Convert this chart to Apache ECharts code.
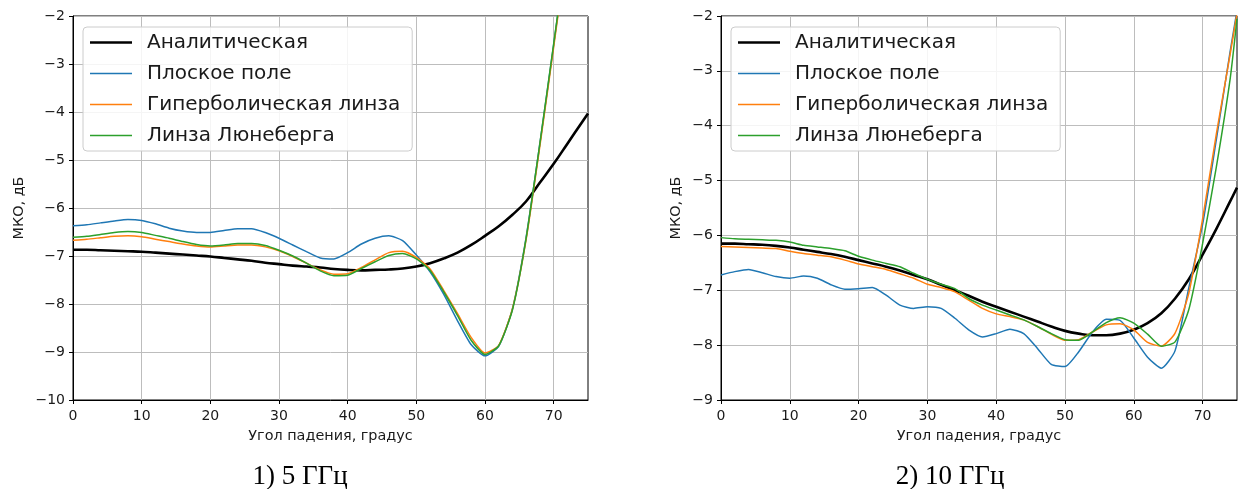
<!DOCTYPE html>
<html>
<head>
<meta charset="utf-8">
<script src="https://cdn.jsdelivr.net/npm/echarts@6/dist/echarts.min.js"></script>
<style>
  html, body { margin: 0; padding: 0; background: #fff; }
  #chart { width: 1241px; height: 489px; }
</style>
</head>
<body>
<div id="chart"></div>
<script>
  // углы падения, градус
  var angles = [0, 2, 4, 6, 8, 10, 12, 14, 16, 18, 20, 22, 24, 26, 28, 30, 32, 34, 36, 38,
    40, 42, 44, 46, 48, 50, 52, 54, 56, 58, 60, 62, 64, 66, 68, 70, 72, 74, 75];
  var xTicks = [0, 10, 20, 30, 40, 50, 60, 70];
  var names = ['Аналитическая', 'Плоское поле', 'Гиперболическая линза', 'Линза Люнеберга'];
  var captions = ['1) 5 ГГц', '2) 10 ГГц'];

  // 5 ГГц
  var analytic5 = [-6.87, -6.87, -6.88, -6.89, -6.90, -6.91, -6.93, -6.95, -6.97, -6.99, -7.01, -7.04, -7.07, -7.10,
    -7.14, -7.17, -7.20, -7.22, -7.24, -7.27, -7.29, -7.30, -7.29, -7.28, -7.26, -7.22, -7.15, -7.05, -6.93,
    -6.77, -6.58, -6.38, -6.14, -5.86, -5.47, -5.08, -4.66, -4.24, -4.03];
  var flat5 = [-6.37, -6.35, -6.31, -6.27, -6.24, -6.26, -6.33, -6.42, -6.48, -6.51, -6.51, -6.47, -6.43, -6.43,
    -6.51, -6.63, -6.77, -6.91, -7.04, -7.06, -6.93, -6.75, -6.63, -6.58, -6.68, -6.98, -7.33, -7.80, -8.35,
    -8.85, -9.08, -8.88, -8.10, -6.60, -4.65, -2.60, -0.50, null, null];
  var hyper5 = [-6.67, -6.65, -6.62, -6.59, -6.58, -6.60, -6.65, -6.70, -6.75, -6.79, -6.81, -6.79, -6.77, -6.77,
    -6.81, -6.89, -7.01, -7.15, -7.29, -7.38, -7.37, -7.24, -7.08, -6.93, -6.90, -7.03, -7.27, -7.72, -8.20,
    -8.70, -9.02, -8.86, -8.10, -6.65, -4.70, -2.65, -0.55, null, null];
  var luneburg5 = [-6.61, -6.59, -6.55, -6.51, -6.49, -6.51, -6.57, -6.63, -6.70, -6.76, -6.79, -6.77, -6.74, -6.74,
    -6.78, -6.88, -7.00, -7.15, -7.31, -7.41, -7.40, -7.26, -7.12, -6.99, -6.95, -7.06, -7.30, -7.75, -8.24,
    -8.76, -9.05, -8.87, -8.12, -6.62, -4.65, -2.58, -0.50, null, null];

  // 10 ГГц
  var analytic10 = [-6.15, -6.15, -6.16, -6.17, -6.19, -6.22, -6.26, -6.30, -6.34, -6.39, -6.45, -6.51, -6.57, -6.64,
    -6.72, -6.80, -6.90, -7.00, -7.10, -7.21, -7.30, -7.39, -7.48, -7.57, -7.66, -7.74, -7.79, -7.82, -7.82,
    -7.79, -7.72, -7.60, -7.42, -7.15, -6.80, -6.35, -5.88, -5.38, -5.13];
  var flat10 = [-6.72, -6.66, -6.62, -6.68, -6.75, -6.78, -6.74, -6.78, -6.90, -6.98, -6.97, -6.95, -7.09, -7.27,
    -7.33, -7.30, -7.33, -7.51, -7.72, -7.85, -7.79, -7.71, -7.79, -8.06, -8.35, -8.39, -8.12, -7.76, -7.53,
    -7.55, -7.87, -8.22, -8.42, -8.10, -6.95, -5.80, -4.25, -2.65, -1.90];
  var hyper10 = [-6.20, -6.21, -6.22, -6.23, -6.24, -6.29, -6.33, -6.36, -6.39, -6.45, -6.52, -6.57, -6.62, -6.70,
    -6.78, -6.89, -6.95, -7.03, -7.18, -7.33, -7.43, -7.48, -7.54, -7.66, -7.80, -7.91, -7.90, -7.76, -7.63,
    -7.61, -7.72, -7.95, -8.02, -7.78, -7.05, -5.70, -4.15, -2.70, -1.95];
  var luneburg10 = [-6.04, -6.06, -6.07, -6.08, -6.09, -6.12, -6.18, -6.21, -6.24, -6.28, -6.38, -6.45, -6.51, -6.57,
    -6.69, -6.80, -6.89, -6.97, -7.15, -7.27, -7.36, -7.45, -7.54, -7.66, -7.79, -7.90, -7.91, -7.76, -7.59,
    -7.50, -7.60, -7.80, -8.02, -7.94, -7.35, -6.15, -4.75, -3.15, -2.05];

  var colors = ['#000000', '#1f77b4', '#ff7f0e', '#2ca02c'];
  var widths = [2.6, 1.5, 1.5, 1.5];
  var textColor = '#1a1a1a';

  function pairs(ys) {
    return angles.map(function (a, i) { return [a, ys[i]]; });
  }

  function minusFmt(v) {
    return v < 0 ? '\u2212' + Math.abs(v) : String(v);
  }

  function makeX(gridIndex) {
    return {
      type: 'value', gridIndex: gridIndex, min: 0, max: 75, interval: 10,
      name: 'Угол падения, градус', nameLocation: 'middle', nameGap: 29,
      nameTextStyle: { fontFamily: 'DejaVu Sans', fontSize: 14.4, color: textColor },
      axisLine: { show: true, onZero: false, lineStyle: { color: '#000', width: 1 } },
      axisTick: { show: true, inside: false, length: 4, lineStyle: { color: '#000' }, customValues: xTicks },
      axisLabel: { fontFamily: 'DejaVu Sans', fontSize: 14, color: textColor, margin: 9, customValues: xTicks },
      splitLine: { show: true, lineStyle: { color: '#bdbdbd', width: 1 } }
    };
  }

  function makeY(gridIndex, min, gap) {
    return {
      type: 'value', gridIndex: gridIndex, min: min, max: -2, interval: 1,
      name: 'МКО, дБ', nameLocation: 'middle', nameGap: gap,
      nameTextStyle: { fontFamily: 'DejaVu Sans', fontSize: 14.4, color: textColor },
      axisLine: { show: true, onZero: false, lineStyle: { color: '#000', width: 1 } },
      axisTick: { show: true, inside: false, length: 4, lineStyle: { color: '#000' } },
      axisLabel: { fontFamily: 'DejaVu Sans', fontSize: 14, color: textColor, margin: 8, formatter: minusFmt },
      splitLine: { show: true, lineStyle: { color: '#bdbdbd', width: 1 } }
    };
  }

  function makeSeries(gridIndex, data) {
    return data.map(function (ys, i) {
      return {
        name: names[i], type: 'line', xAxisIndex: gridIndex, yAxisIndex: gridIndex,
        data: pairs(ys), symbol: 'none', smooth: i === 0 ? 0.4 : 0.2, connectNulls: false,
        clip: true, animation: false,
        lineStyle: { color: colors[i], width: widths[i] },
        itemStyle: { color: colors[i] }
      };
    });
  }

  function makeLegend(left) {
    return {
      orient: 'vertical', left: left, top: 27,
      data: names.map(function (n, i) {
        return { name: n, icon: 'path://M0,0H42V' + widths[i] + 'H0Z' };
      }),
      itemWidth: 42, itemHeight: 14, itemGap: 10,
      padding: [5, 12, 5, 7],
      backgroundColor: 'rgba(255,255,255,0.85)',
      borderColor: '#cccccc', borderWidth: 1, borderRadius: 4,
      textStyle: { fontFamily: 'DejaVu Sans', fontSize: 20, lineHeight: 21, color: textColor, padding: [0, 0, 0, 10] }
    };
  }

  function caption(text, x) {
    return {
      type: 'text', x: x, y: 477,
      style: { text: text, font: '27px "Liberation Serif"', fill: '#000', align: 'center', verticalAlign: 'middle' }
    };
  }

  var chart = echarts.init(document.getElementById('chart'));
  chart.setOption({
    animation: false,
    color: colors,
    grid: [
      { left: 73, top: 16, width: 515, height: 384, show: true, borderColor: '#000', borderWidth: 1, containLabel: false },
      { left: 721, top: 16, width: 516, height: 384, show: true, borderColor: '#000', borderWidth: 1, containLabel: false }
    ],
    legend: [makeLegend(83), makeLegend(731)],
    xAxis: [makeX(0), makeX(1)],
    yAxis: [makeY(0, -10, 47), makeY(1, -9, 38)],
    series: makeSeries(0, [analytic5, flat5, hyper5, luneburg5])
      .concat(makeSeries(1, [analytic10, flat10, hyper10, luneburg10])),
    graphic: [caption(captions[0], 300), caption(captions[1], 950)]
  });
</script>
</body>
</html>
